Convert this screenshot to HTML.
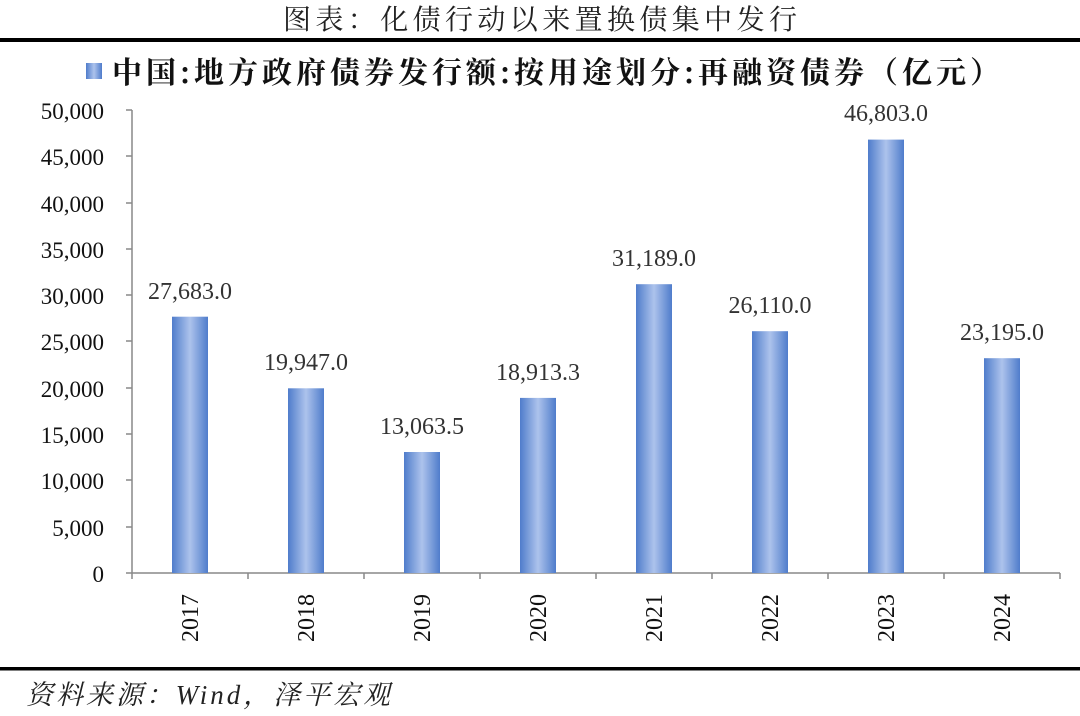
<!DOCTYPE html>
<html><head><meta charset="utf-8"><style>
body{margin:0;background:#fff;}
svg{display:block}
</style></head><body>
<svg width="1080" height="716" xmlns="http://www.w3.org/2000/svg" font-family="'Liberation Serif','Noto Serif CJK SC',serif">
<defs>
<linearGradient id="g" x1="0" x2="1" y1="0" y2="0">
<stop offset="0" stop-color="#4f7ccb"/><stop offset="0.5" stop-color="#adc3ec"/><stop offset="1" stop-color="#4f7ccb"/>
</linearGradient>
</defs>
<text x="283" y="29" textLength="514" lengthAdjust="spacing" font-size="28" fill="#222" font-family="'Noto Serif CJK SC',serif">图表：化债行动以来置换债集中发行</text>
<rect x="0" y="38" width="1080" height="4" fill="#000"/>
<rect x="86" y="63" width="16" height="16" fill="url(#g)"/>
<text x="112" y="83" textLength="888" lengthAdjust="spacing" font-size="30" font-weight="bold" fill="#111" font-family="'Noto Serif CJK SC',serif">中国:地方政府债券发行额:按用途划分:再融资债券（亿元）</text>
<g font-size="23" fill="#111" text-anchor="end">
<text x="104" y="119">50,000</text><text x="104" y="165">45,000</text><text x="104" y="212">40,000</text><text x="104" y="258">35,000</text><text x="104" y="304">30,000</text><text x="104" y="350">25,000</text><text x="104" y="397">20,000</text><text x="104" y="443">15,000</text><text x="104" y="489">10,000</text><text x="104" y="536">5,000</text><text x="104" y="582">0</text>
</g>
<g stroke="#888" stroke-width="1.5">
<line x1="132" y1="110" x2="132" y2="573"/>
<line x1="126" y1="573" x2="1060" y2="573"/>
<line x1="126" y1="110" x2="132" y2="110"/><line x1="126" y1="156" x2="132" y2="156"/><line x1="126" y1="203" x2="132" y2="203"/><line x1="126" y1="249" x2="132" y2="249"/><line x1="126" y1="295" x2="132" y2="295"/><line x1="126" y1="341" x2="132" y2="341"/><line x1="126" y1="388" x2="132" y2="388"/><line x1="126" y1="434" x2="132" y2="434"/><line x1="126" y1="480" x2="132" y2="480"/><line x1="126" y1="527" x2="132" y2="527"/>
<line x1="132" y1="573" x2="132" y2="579"/><line x1="248" y1="573" x2="248" y2="579"/><line x1="364" y1="573" x2="364" y2="579"/><line x1="480" y1="573" x2="480" y2="579"/><line x1="596" y1="573" x2="596" y2="579"/><line x1="712" y1="573" x2="712" y2="579"/><line x1="828" y1="573" x2="828" y2="579"/><line x1="944" y1="573" x2="944" y2="579"/><line x1="1060" y1="573" x2="1060" y2="579"/>
</g>
<g fill="url(#g)">
<rect x="172" y="316.7" width="36" height="256.3"/>
<rect x="288" y="388.3" width="36" height="184.7"/>
<rect x="404" y="452" width="36" height="121"/>
<rect x="520" y="397.9" width="36" height="175.1"/>
<rect x="636" y="284.2" width="36" height="288.8"/>
<rect x="752" y="331.2" width="36" height="241.8"/>
<rect x="868" y="139.6" width="36" height="433.4"/>
<rect x="984" y="358.2" width="36" height="214.8"/>
</g>
<g font-size="24" fill="#333" text-anchor="middle">
<text x="190" y="299">27,683.0</text>
<text x="306" y="370">19,947.0</text>
<text x="422" y="434">13,063.5</text>
<text x="538" y="380">18,913.3</text>
<text x="654" y="266">31,189.0</text>
<text x="770" y="313">26,110.0</text>
<text x="886" y="121">46,803.0</text>
<text x="1002" y="340">23,195.0</text>
</g>
<g font-size="24" fill="#111" text-anchor="middle">
<text transform="translate(198,618) rotate(-90)">2017</text>
<text transform="translate(314,618) rotate(-90)">2018</text>
<text transform="translate(430,618) rotate(-90)">2019</text>
<text transform="translate(546,618) rotate(-90)">2020</text>
<text transform="translate(662,618) rotate(-90)">2021</text>
<text transform="translate(778,618) rotate(-90)">2022</text>
<text transform="translate(894,618) rotate(-90)">2023</text>
<text transform="translate(1010,618) rotate(-90)">2024</text>
</g>
<rect x="0" y="667" width="1080" height="3.5" fill="#000"/>
<text x="26" y="704" textLength="364" lengthAdjust="spacing" font-size="27" font-style="italic" fill="#222">资料来源：Wind，泽平宏观</text>
</svg>
</body></html>
